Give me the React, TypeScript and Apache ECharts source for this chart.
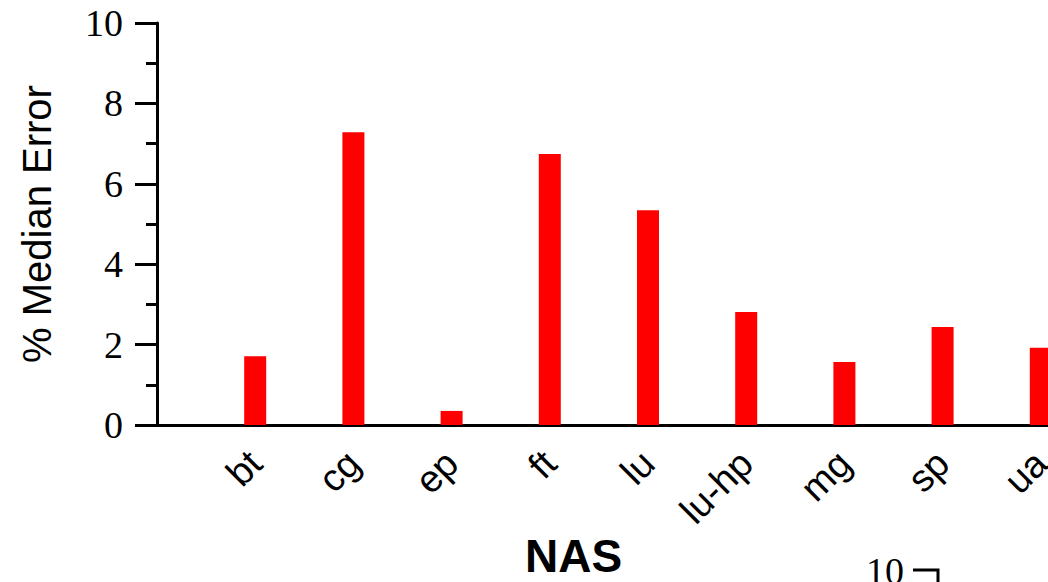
import React, { useEffect, useRef } from "react";
import * as echarts from "echarts";

const categories = ["", "bt", "cg", "ep", "ft", "lu", "lu-hp", "mg", "sp", "ua", ""];
const medianError = [null, 1.71, 7.28, 0.35, 6.74, 5.34, 2.81, 1.57, 2.44, 1.92, null];
const yTicks = [0, 2, 4, 6, 8, 10];

export default function App() {
  const ref = useRef<HTMLDivElement>(null);
  useEffect(() => {
    if (!ref.current) return;
    const chart = echarts.init(ref.current, null, { renderer: "svg" });
    chart.setOption({
      animation: false,
      backgroundColor: "#ffffff",
      grid: {
        left: 157,
        top: 23,
        bottom: 157,
        width: 982,
        containLabel: false,
        outerBoundsMode: "none",
      },
      xAxis: {
        type: "category",
        data: categories,
        boundaryGap: false,
        axisLine: { show: true, lineStyle: { color: "#000", width: 3 } },
        axisTick: { show: false },
        axisLabel: {
          rotate: 45,
          interval: 0,
          margin: 32,
          fontFamily: "Liberation Sans",
          fontSize: 38,
          color: "#000",
        },
        splitLine: { show: false },
      },
      yAxis: {
        type: "value",
        min: yTicks[0],
        max: yTicks[yTicks.length - 1],
        interval: 2,
        name: "% Median Error",
        nameLocation: "middle",
        nameGap: 100,
        nameTextStyle: { fontFamily: "Liberation Sans", fontSize: 40, color: "#000" },
        axisLine: { show: true, lineStyle: { color: "#000", width: 3 } },
        axisTick: { show: true, inside: false, length: 22, lineStyle: { color: "#000", width: 3 } },
        minorTick: { show: true, splitNumber: 2, length: 11, lineStyle: { color: "#000", width: 3 } },
        axisLabel: {
          margin: 34,
          fontFamily: "Liberation Serif",
          fontSize: 38,
          color: "#000",
        },
        splitLine: { show: false },
      },
      series: [
        {
          type: "bar",
          data: medianError,
          barWidth: 22,
          itemStyle: { color: "#ff0000" },
        },
      ],
      graphic: [
        {
          type: "text",
          left: 574 - 49,
          top: 533,
          style: {
            text: "NAS",
            fontFamily: "Liberation Sans",
            fontWeight: "bold",
            fontSize: 46,
            fill: "#000",
          },
        },
        {
          type: "text",
          x: 866,
          y: 552,
          style: {
            text: "10",
            fontFamily: "Liberation Serif",
            fontSize: 38,
            fill: "#000",
          },
        },
        {
          type: "polyline",
          shape: { points: [[913, 570], [938, 570], [938, 590]] },
          style: { stroke: "#000", lineWidth: 3, fill: "none" },
        },
      ],
    });
    return () => chart.dispose();
  }, []);
  return (
    <div
      ref={ref}
      style={{ position: "fixed", left: 0, top: 0, width: 1048, height: 582 }}
    />
  );
}
